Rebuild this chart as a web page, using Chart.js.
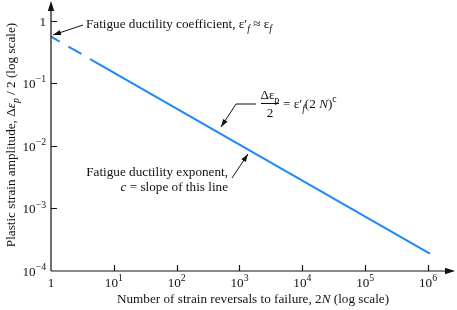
<!DOCTYPE html>
<html>
<head>
<meta charset="utf-8">
<script src="https://cdn.jsdelivr.net/npm/chart.js@4/dist/chart.umd.min.js"></script>
<style>
  html, body { margin: 0; padding: 0; background: #ffffff; }
  #c { display: block; }
</style>
</head>
<body>
<canvas id="c" width="457" height="310"></canvas>
<script>
// ---- data ----
const reversals = [1, 4.2, 1.07e6];            // 2N (x)
const plasticAmp = [0.56, 0.245, 1.9e-4];      // Δεp/2 (y)
const xTickValues = [1, 10, 100, 1000, 10000, 100000, 1000000];
const xTickBases = ['1', '10', '10', '10', '10', '10', '10'];
const xTickExps = ['', '1', '2', '3', '4', '5', '6'];
const yTickValues = [1e-4, 1e-3, 1e-2, 1e-1, 1];
const yTickBases = ['10', '10', '10', '10', '1'];
const yTickExps = ['\u22124', '\u22123', '\u22122', '\u22121', ''];
const xTitle = [{t: 'Number of strain reversals to failure, 2'}, {t: 'N', i: true}, {t: ' (log scale)'}];
const yTitle = [{t: 'Plastic strain amplitude, \u0394'}, {t: '\u03b5', i: true}, {t: 'p', i: true, s: 'sub'}, {t: ' / 2 (log scale)'}];

const FONT = '"Liberation Serif", "Times New Roman", serif';
const FS = 13.2;
const BLUE = '#1e88fa';

function fontFor(size, italic) {
  return (italic ? 'italic ' : '') + size + 'px ' + FONT;
}
function runWidth(ctx, runs, fs) {
  let w = 0;
  for (const r of runs) {
    const size = r.s ? fs * 0.74 : fs;
    ctx.font = fontFor(size, r.i);
    w += ctx.measureText(r.t).width + (r.k || 0);
  }
  return w;
}
function drawRuns(ctx, runs, x, y, align, fs) {
  fs = fs || FS;
  const w = runWidth(ctx, runs, fs);
  let cx = align === 'center' ? x - w / 2 : (align === 'right' ? x - w : x);
  ctx.textAlign = 'left';
  ctx.textBaseline = 'alphabetic';
  for (const r of runs) {
    const size = r.s ? fs * 0.74 : fs;
    ctx.font = fontFor(size, r.i);
    let dy = 0;
    if (r.s === 'sub') dy = fs * 0.3;
    if (r.s === 'sup') dy = -fs * 0.45;
    ctx.fillText(r.t, cx, y + dy);
    cx += ctx.measureText(r.t).width + (r.k || 0);
  }
  return w;
}
function arrowHead(ctx, x1, y1, x2, y2, len, half) {
  const a = Math.atan2(y2 - y1, x2 - x1);
  ctx.beginPath();
  ctx.moveTo(x2, y2);
  ctx.lineTo(x2 - len * Math.cos(a) + half * Math.sin(a), y2 - len * Math.sin(a) - half * Math.cos(a));
  ctx.lineTo(x2 - len * Math.cos(a) - half * Math.sin(a), y2 - len * Math.sin(a) + half * Math.cos(a));
  ctx.closePath();
  ctx.fill();
}
function arrowLine(ctx, pts) {
  ctx.beginPath();
  ctx.moveTo(pts[0][0], pts[0][1]);
  for (let i = 1; i < pts.length; i++) ctx.lineTo(pts[i][0], pts[i][1]);
  ctx.stroke();
  const n = pts.length;
  arrowHead(ctx, pts[n - 2][0], pts[n - 2][1], pts[n - 1][0], pts[n - 1][1], 8, 2.6);
}

const decor = {
  id: 'decor',
  afterDraw(chart) {
    const ctx = chart.ctx;
    const xs = chart.scales.x, ys = chart.scales.y;
    const L = xs.getPixelForValue(1), B = ys.getPixelForValue(1e-4);
    const area = chart.chartArea;
    ctx.save();
    ctx.fillStyle = '#111';
    ctx.strokeStyle = '#111';
    ctx.lineWidth = 1.2;
    // axes
    ctx.beginPath();
    ctx.moveTo(L, B); ctx.lineTo(L, area.top + 2);
    ctx.moveTo(L, B); ctx.lineTo(area.right, B);
    ctx.stroke();
    arrowHead(ctx, L, B, L, area.top - 1, 10, 3.2);
    arrowHead(ctx, L, B, area.right + 2, B, 10, 3.2);
    // ticks
    ctx.beginPath();
    for (const v of xTickValues) {
      if (v === 1) continue;
      const px = Math.round(xs.getPixelForValue(v)) + 0.5;
      ctx.moveTo(px, B); ctx.lineTo(px, B - 6);
    }
    for (const v of yTickValues) {
      if (v === 1e-4) continue;
      const py = Math.round(ys.getPixelForValue(v)) + 0.5;
      ctx.moveTo(L, py); ctx.lineTo(L + 6, py);
    }
    ctx.stroke();
    // tick labels
    xTickValues.forEach((v, i) => {
      const runs = [{t: xTickBases[i]}];
      if (xTickExps[i]) runs.push({t: xTickExps[i], s: 'sup'});
      drawRuns(ctx, runs, xs.getPixelForValue(v), B + 16, 'center');
    });
    yTickValues.forEach((v, i) => {
      const runs = [{t: yTickBases[i]}];
      if (yTickExps[i]) runs.push({t: yTickExps[i], s: 'sup'});
      drawRuns(ctx, runs, L - 5, ys.getPixelForValue(v) + 5, 'right');
    });
    // axis titles
    drawRuns(ctx, xTitle, 253, 303, 'center');
    ctx.save();
    ctx.translate(15, 135);
    ctx.rotate(-Math.PI / 2);
    drawRuns(ctx, yTitle, 0, 0, 'center');
    ctx.restore();

    // annotation 1: coefficient
    drawRuns(ctx, [
      {t: 'Fatigue ductility coefficient, \u03b5\u2032'},
      {t: 'f', i: true, s: 'sub'},
      {t: ' \u2248 \u03b5'},
      {t: 'f', i: true, s: 'sub'}
    ], 86, 28, 'left');
    ctx.lineWidth = 1;
    arrowLine(ctx, [[83, 25], [53, 35]]);

    // annotation 2: equation
    const fx = 270;
    drawRuns(ctx, [{t: '\u0394\u03b5'}, {t: 'p', s: 'sub'}], fx, 99, 'center');
    ctx.beginPath(); ctx.moveTo(fx - 9, 103.5); ctx.lineTo(fx + 9, 103.5); ctx.stroke();
    drawRuns(ctx, [{t: '2'}], fx, 117, 'center');
    drawRuns(ctx, [
      {t: '= \u03b5\u2032'},
      {t: 'f', i: true, s: 'sub'},
      {t: '(2 '},
      {t: 'N', i: true},
      {t: ')'},
      {t: 'c', s: 'sup'}
    ], fx + 13, 108, 'left');
    arrowLine(ctx, [[256, 104], [236, 104], [221, 127]]);

    // annotation 3: exponent
    drawRuns(ctx, [{t: 'Fatigue ductility exponent,'}], 228, 176, 'right');
    drawRuns(ctx, [{t: 'c', i: true}, {t: ' = slope of this line'}], 228, 191, 'right');
    arrowLine(ctx, [[232, 178], [248, 154]]);
    ctx.restore();
  }
};

const points = reversals.map((x, i) => ({x: x, y: plasticAmp[i]}));

new Chart(document.getElementById('c'), {
  type: 'line',
  data: {
    datasets: [{
      data: points,
      borderColor: BLUE,
      borderWidth: 2,
      pointRadius: 0,
      fill: false,
      tension: 0,
      borderDash: [],
      borderDashOffset: 0,
      segment: {
        borderDash: c => c.p0DataIndex === 0 ? [15, 10] : [],
        borderDashOffset: c => c.p0DataIndex === 0 ? 5 : 0
      }
    }]
  },
  options: {
    responsive: false,
    animation: false,
    events: [],
    layout: { padding: { left: 51, right: 4, top: 2, bottom: 39 } },
    plugins: { legend: { display: false }, tooltip: { enabled: false } },
    scales: {
      x: { type: 'logarithmic', display: false, min: 1, max: 2.5e6 },
      y: { type: 'logarithmic', display: false, min: 1e-4, max: 2.0 }
    }
  },
  plugins: [decor]
});
</script>
</body>
</html>
